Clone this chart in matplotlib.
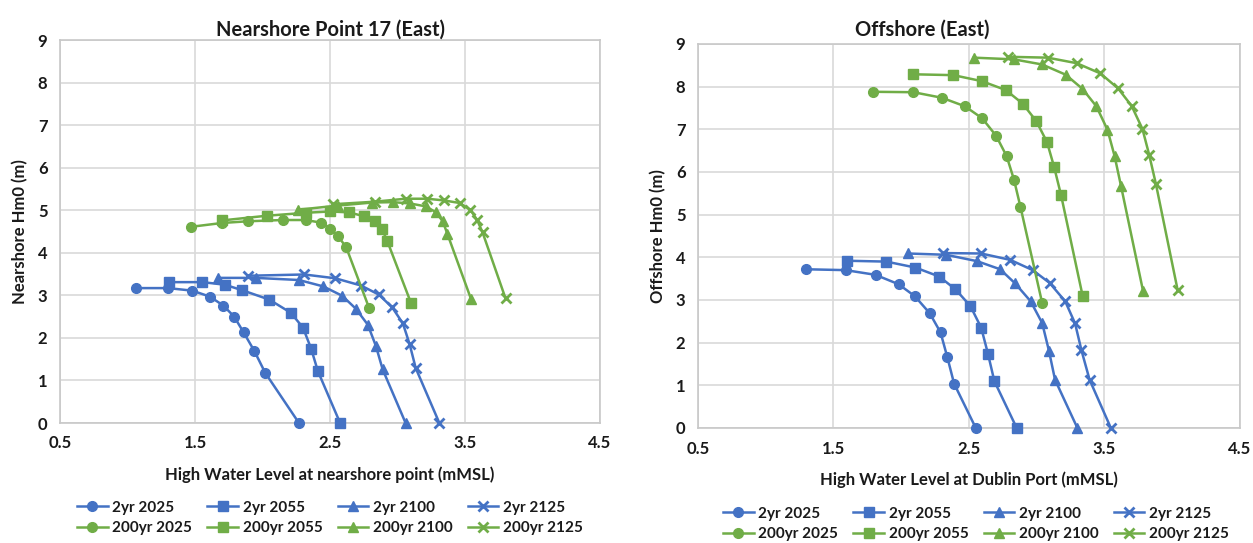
import matplotlib
matplotlib.use("Agg")
import matplotlib.pyplot as plt
from matplotlib.lines import Line2D

plt.rcParams['font.family'] = ['Lato', 'DejaVu Sans']

BLUE = '#4472C4'
GREEN = '#70AD47'

series_names = ['2yr 2025', '2yr 2055', '2yr 2100', '2yr 2125',
                '200yr 2025', '200yr 2055', '200yr 2100', '200yr 2125']
series_colors = [BLUE, BLUE, BLUE, BLUE, GREEN, GREEN, GREEN, GREEN]
series_markers = ['o', 's', '^', 'x', 'o', 's', '^', 'x']

# ---- Nearshore Point 17 (East) ----
near_2yr_2025_x = [1.06, 1.30, 1.48, 1.61, 1.71, 1.79, 1.86, 1.94, 2.02, 2.27]
near_2yr_2025_y = [3.17, 3.17, 3.11, 2.97, 2.76, 2.50, 2.13, 1.69, 1.18, 0.0]
near_2yr_2055_x = [1.31, 1.555, 1.72, 1.85, 2.05, 2.21, 2.30, 2.36, 2.41, 2.575]
near_2yr_2055_y = [3.31, 3.31, 3.25, 3.12, 2.90, 2.59, 2.24, 1.75, 1.22, 0.0]
near_2yr_2100_x = [1.67, 1.95, 2.27, 2.45, 2.59, 2.69, 2.78, 2.84, 2.89, 3.06]
near_2yr_2100_y = [3.41, 3.41, 3.36, 3.21, 2.99, 2.69, 2.31, 1.81, 1.26, 0.0]
near_2yr_2125_x = [1.89, 2.31, 2.54, 2.73, 2.86, 2.96, 3.04, 3.09, 3.135, 3.31]
near_2yr_2125_y = [3.46, 3.49, 3.40, 3.23, 3.02, 2.72, 2.34, 1.85, 1.29, 0.0]
near_200yr_2025_x = [1.47, 1.70, 1.89, 2.15, 2.32, 2.43, 2.50, 2.56, 2.62, 2.79]
near_200yr_2025_y = [4.61, 4.70, 4.74, 4.77, 4.77, 4.71, 4.57, 4.39, 4.13, 2.70]
near_200yr_2055_x = [1.70, 2.03, 2.32, 2.50, 2.64, 2.75, 2.83, 2.885, 2.925, 3.10]
near_200yr_2055_y = [4.76, 4.87, 4.94, 4.97, 4.95, 4.86, 4.74, 4.56, 4.27, 2.82]
near_200yr_2100_x = [2.26, 2.56, 2.81, 2.965, 3.09, 3.21, 3.285, 3.335, 3.37, 3.545]
near_200yr_2100_y = [5.01, 5.11, 5.18, 5.19, 5.16, 5.09, 4.95, 4.74, 4.44, 2.91]
near_200yr_2125_x = [2.52, 2.83, 3.06, 3.22, 3.345, 3.46, 3.54, 3.59, 3.63, 3.80]
near_200yr_2125_y = [5.14, 5.20, 5.27, 5.27, 5.23, 5.17, 5.01, 4.77, 4.48, 2.93]

# ---- Offshore (East) ----
off_2yr_2025_x = [1.30, 1.59, 1.81, 1.98, 2.10, 2.21, 2.29, 2.34, 2.39, 2.55]
off_2yr_2025_y = [3.72, 3.70, 3.59, 3.37, 3.09, 2.69, 2.24, 1.66, 1.04, 0.0]
off_2yr_2055_x = [1.60, 1.89, 2.105, 2.28, 2.40, 2.51, 2.59, 2.64, 2.687, 2.852]
off_2yr_2055_y = [3.92, 3.90, 3.76, 3.55, 3.25, 2.86, 2.35, 1.74, 1.10, 0.0]
off_2yr_2100_x = [2.05, 2.33, 2.56, 2.73, 2.84, 2.955, 3.04, 3.09, 3.135, 3.30]
off_2yr_2100_y = [4.09, 4.06, 3.91, 3.72, 3.39, 2.97, 2.46, 1.81, 1.13, 0.0]
off_2yr_2125_x = [2.31, 2.59, 2.805, 2.97, 3.095, 3.21, 3.283, 3.33, 3.39, 3.547]
off_2yr_2125_y = [4.10, 4.09, 3.94, 3.70, 3.40, 2.97, 2.45, 1.82, 1.13, 0.0]
off_200yr_2025_x = [1.79, 2.09, 2.30, 2.47, 2.597, 2.70, 2.778, 2.832, 2.88, 3.04]
off_200yr_2025_y = [7.88, 7.87, 7.74, 7.54, 7.26, 6.85, 6.37, 5.82, 5.18, 2.93]
off_200yr_2055_x = [2.09, 2.385, 2.594, 2.772, 2.897, 2.997, 3.076, 3.128, 3.18, 3.339]
off_200yr_2055_y = [8.29, 8.27, 8.13, 7.92, 7.60, 7.19, 6.70, 6.12, 5.45, 3.09]
off_200yr_2100_x = [2.535, 2.832, 3.04, 3.214, 3.337, 3.44, 3.522, 3.574, 3.622, 3.784]
off_200yr_2100_y = [8.68, 8.64, 8.52, 8.28, 7.95, 7.54, 6.99, 6.38, 5.67, 3.22]
off_200yr_2125_x = [2.79, 3.08, 3.295, 3.47, 3.60, 3.70, 3.78, 3.83, 3.88, 4.04]
off_200yr_2125_y = [8.70, 8.68, 8.55, 8.31, 7.96, 7.55, 7.01, 6.40, 5.71, 3.23]

near_series = [
    (near_2yr_2025_x, near_2yr_2025_y), (near_2yr_2055_x, near_2yr_2055_y),
    (near_2yr_2100_x, near_2yr_2100_y), (near_2yr_2125_x, near_2yr_2125_y),
    (near_200yr_2025_x, near_200yr_2025_y), (near_200yr_2055_x, near_200yr_2055_y),
    (near_200yr_2100_x, near_200yr_2100_y), (near_200yr_2125_x, near_200yr_2125_y),
]
off_series = [
    (off_2yr_2025_x, off_2yr_2025_y), (off_2yr_2055_x, off_2yr_2055_y),
    (off_2yr_2100_x, off_2yr_2100_y), (off_2yr_2125_x, off_2yr_2125_y),
    (off_200yr_2025_x, off_200yr_2025_y), (off_200yr_2055_x, off_200yr_2055_y),
    (off_200yr_2100_x, off_200yr_2100_y), (off_200yr_2125_x, off_200yr_2125_y),
]

x_ticks = [0.5, 1.5, 2.5, 3.5, 4.5]
x_tick_labels = ['0.5', '1.5', '2.5', '3.5', '4.5']
y_ticks = [0, 1, 2, 3, 4, 5, 6, 7, 8, 9]

W, H = 1253, 543
fig = plt.figure(figsize=(W / 100, H / 100), dpi=100)

def px_axes(l, t, r, b):
    return fig.add_axes([l / W, 1 - b / H, (r - l) / W, (b - t) / H])

ax1 = px_axes(60, 40, 600, 423)
ax2 = px_axes(698, 44, 1240, 428)

msizes = {'o': 7, 's': 6.5, '^': 7, 'x': 7.5}
TXT = '#1a1a1a'

def style_axes(ax, ylabel, xlabel):
    ax.set_xlim(0.5, 4.5)
    ax.set_ylim(0, 9)
    ax.set_xticks(x_ticks)
    ax.set_xticklabels(x_tick_labels)
    ax.set_yticks(y_ticks)
    ax.grid(True, color='#d9d9d9', linewidth=1.2)
    ax.set_axisbelow(True)
    for s in ax.spines.values():
        s.set_color('#c8c8c8')
        s.set_linewidth(1.2)
    ax.tick_params(length=0, labelsize=12, pad=9)
    for lab in ax.get_xticklabels() + ax.get_yticklabels():
        lab.set_fontweight('bold')
        lab.set_color(TXT)
    ax.set_ylabel(ylabel, fontsize=12, fontweight='bold', labelpad=7, color=TXT)
    ax.set_xlabel(xlabel, fontsize=12, fontweight='bold', labelpad=11, color=TXT)

def draw(ax, series):
    for (xs, ys), c, m, n in zip(series, series_colors, series_markers, series_names):
        mew = 2.0 if m == 'x' else 1.0
        ax.plot(xs, ys, color=c, lw=1.8, marker=m, markersize=msizes[m],
                markerfacecolor=c, markeredgecolor=c, markeredgewidth=mew,
                clip_on=False, zorder=3, label=n)

draw(ax1, near_series)
draw(ax2, off_series)
style_axes(ax1, 'Nearshore Hm0 (m)', 'High Water Level at nearshore point (mMSL)')
style_axes(ax2, 'Offshore Hm0 (m)', 'High Water Level at Dublin Port (mMSL)')

fig.text(330 / W, 1 - 30 / H, 'Nearshore Point 17 (East)', ha='center', va='center',
         fontsize=14.5, fontweight='bold', color=TXT)
fig.text(922 / W, 1 - 30 / H, 'Offshore (East)', ha='center', va='center',
         fontsize=14.5, fontweight='bold', color=TXT)

def make_handles():
    hs = []
    for c, m, n in zip(series_colors, series_markers, series_names):
        mew = 2.0 if m == 'x' else 1.0
        hs.append(Line2D([], [], color=c, lw=1.8, marker=m, markersize=msizes[m],
                         markerfacecolor=c, markeredgecolor=c, markeredgewidth=mew, label=n))
    # reorder so rows read across (matplotlib fills legends column by column)
    order = [0, 4, 1, 5, 2, 6, 3, 7]
    return [hs[i] for i in order]

for cx, cy in [(330, 518), (976, 524)]:
    leg = fig.legend(handles=make_handles(), loc='center', ncol=4, frameon=False,
                     bbox_to_anchor=(cx / W, 1 - cy / H), fontsize=11,
                     handlelength=2.0, handletextpad=0.3, columnspacing=1.0,
                     labelspacing=0.45, numpoints=1, borderpad=0.1)
    for t in leg.get_texts():
        t.set_fontweight('bold')
        t.set_color(TXT)

fig.savefig('out.png', dpi=100, facecolor='white')
